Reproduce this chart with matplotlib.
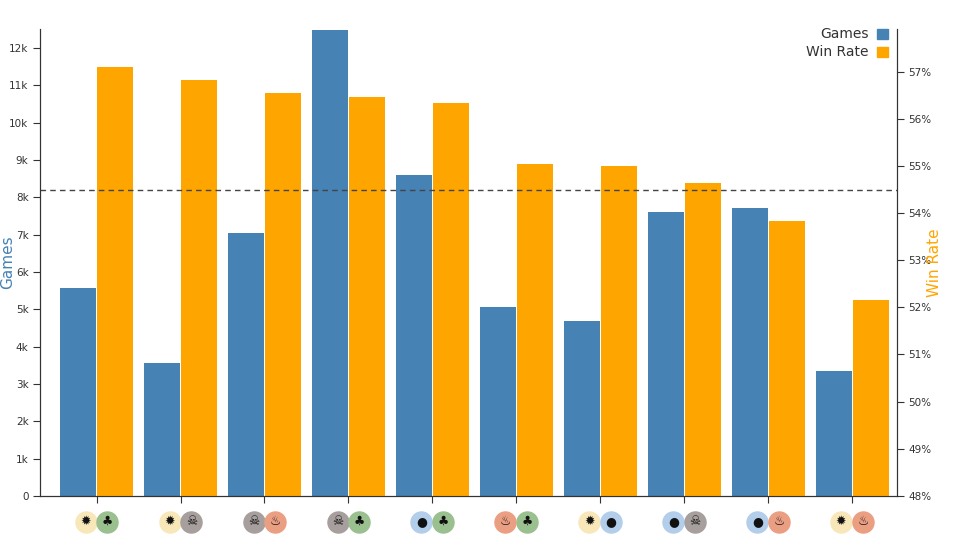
import matplotlib
matplotlib.use("Agg")
import matplotlib.pyplot as plt
import matplotlib.transforms as mtransforms
import numpy as np

pairs = ["WG", "WB", "BR", "BG", "UG", "RG", "WU", "UB", "UR", "WR"]
games = [5580, 3570, 7030, 12480, 8600, 5060, 4680, 7600, 7700, 3350]
win_rate = [57.09, 56.83, 56.54, 56.47, 56.33, 55.05, 54.99, 54.63, 53.83, 52.15]
avg_win_rate = 54.48

blue = "#4682b4"
orange = "#ffa500"
mana_fill = {"W": "#f8e7b9", "U": "#b3ceea", "B": "#a69f9d", "R": "#eb9f82", "G": "#9bc08f"}
mana_sym = {"W": "✹", "U": "●", "B": "☠", "R": "♨", "G": "♣"}

plt.rcParams["font.family"] = ["DejaVu Sans"]
fig = plt.figure(figsize=(9.6, 5.51), dpi=100)
ax = fig.add_axes([0.042, 0.1, 0.892, 0.847])
ax2 = ax.twinx()

x = np.arange(len(pairs))
w = 0.43
ax.bar(x - w / 2 - 0.005, games, width=w, color=blue)
ax2.bar(x + w / 2 + 0.005, win_rate, width=w, color=orange)
ax2.axhline(avg_win_rate, color="#444", linestyle=(0, (4, 3)), linewidth=1)

ax.set_xlim(-0.67, 9.53)
ax.set_ylim(0, 12500)
ax2.set_ylim(48, 57.9)
ax.set_yticks(np.arange(0, 12001, 1000))
ax.set_yticklabels(["0"] + [f"{i}k" for i in range(1, 13)])
ax2.set_yticks(np.arange(48, 58))
ax2.set_yticklabels([f"{i}%" for i in range(48, 58)])
ax.set_xticks(x)
ax.set_xticklabels([])

for a in (ax, ax2):
    a.spines["top"].set_visible(False)
    a.tick_params(labelsize=7.5, colors="#333", length=5)
    for s in ("left", "right", "bottom"):
        a.spines[s].set_color("#333")
ax.set_ylabel("Games", color=blue, fontsize=11)
ax.yaxis.set_label_coords(-0.029, 0.5)
ax2.set_ylabel("Win Rate", color=orange, fontsize=11)
ax2.yaxis.set_label_coords(1.036, 0.5)

# mana symbols under each group
trans = mtransforms.blended_transform_factory(ax.transData, ax.transAxes)
for i, p in enumerate(pairs):
    for j, c in enumerate(p):
        xo = i + (j - 0.5) * 0.26
        ax.scatter([xo], [-0.055], s=230, color=mana_fill[c], transform=trans, clip_on=False, zorder=5)
        ax.text(xo, -0.055, mana_sym[c], transform=trans, ha="center", va="center",
                fontsize=9, color="#111", zorder=6)

# legend
fig.text(0.905, 0.938, "Games", ha="right", va="center", fontsize=10, color="#333")
fig.text(0.905, 0.905, "Win Rate", ha="right", va="center", fontsize=10, color="#333")
fig.patches.append(plt.Rectangle((0.914, 0.929), 0.011, 0.019, color=blue, transform=fig.transFigure))
fig.patches.append(plt.Rectangle((0.914, 0.896), 0.011, 0.019, color=orange, transform=fig.transFigure))

fig.savefig("out.png", dpi=100)
